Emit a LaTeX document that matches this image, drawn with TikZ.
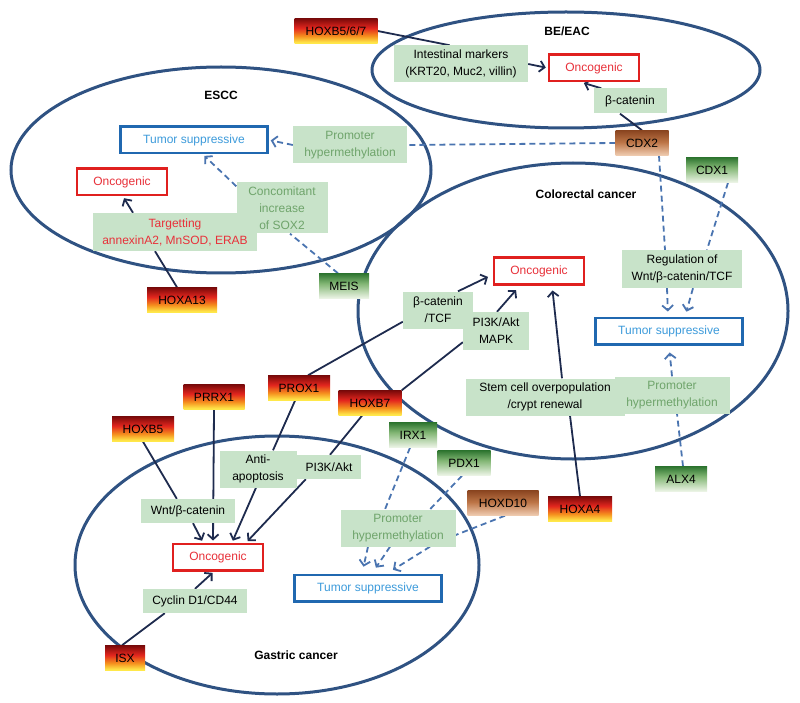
\documentclass[tikz,border=0pt]{standalone}
\usepackage{fontspec}
\setmainfont{Liberation Sans}
\usetikzlibrary{arrows.meta,calc,backgrounds}

\definecolor{ellc}{HTML}{2F5282}
\definecolor{solc}{HTML}{1E2B4E}
\definecolor{dshc}{HTML}{4A74B0}
\definecolor{lblfill}{HTML}{C8E3C9}
\definecolor{grntxt}{HTML}{6FA46B}
\definecolor{redtxt}{HTML}{E8313A}
\definecolor{redbord}{HTML}{E0201F}
\definecolor{bluetxt}{HTML}{3D9BDB}
\definecolor{bluebord}{HTML}{2068B0}
% gradient colours
\definecolor{gy}{HTML}{FFE84A}
\definecolor{go}{HTML}{F5901E}
\definecolor{gr}{HTML}{E3261E}
\definecolor{gd}{HTML}{7A0A0A}
\definecolor{by}{HTML}{F0CDB2}
\definecolor{bm}{HTML}{BC7446}
\definecolor{bd}{HTML}{8A4520}
\definecolor{ny}{HTML}{EEF5E8}
\definecolor{nm}{HTML}{82B674}
\definecolor{nd}{HTML}{2E7530}

\pgfdeclareverticalshading{redgene}{100bp}{color(0bp)=(gy); color(27bp)=(gy); color(40bp)=(go); color(56bp)=(gr); color(75bp)=(gd); color(100bp)=(gd)}
\pgfdeclareverticalshading{browngene}{100bp}{color(0bp)=(by); color(25bp)=(by); color(52bp)=(bm); color(75bp)=(bd); color(100bp)=(bd)}
\pgfdeclareverticalshading{greengene}{100bp}{color(0bp)=(ny); color(25bp)=(ny); color(55bp)=(nm); color(75bp)=(nd); color(100bp)=(nd)}

\newcommand\dgmfont{\fontsize{12}{17}\selectfont}

\tikzset{
  gene/.style={minimum height=25pt, inner sep=0pt, font=\dgmfont, text=black},
  redg/.style={gene, shading=redgene},
  brng/.style={gene, shading=browngene},
  grng/.style={gene, shading=greengene},
  lbl/.style={fill=lblfill, inner sep=0pt, align=center, font=\dgmfont, text=black},
  glbl/.style={lbl, text=grntxt},
  rlbl/.style={lbl, text=redtxt},
  outc/.style={fill=white, line width=2.5pt, minimum height=26.5pt, inner sep=0pt, font=\dgmfont},
  onc/.style={outc, draw=redbord, text=redtxt, minimum width=90pt},
  sup/.style={outc, draw=bluebord, text=bluetxt, minimum width=147pt},
  ttl/.style={font=\dgmfont\bfseries, text=black},
  ell/.style={draw=ellc, line width=3pt},
  sol/.style={draw=solc, line width=1.8pt},
  solarr/.style={sol, -{Straight Barb[length=5pt,width=11pt]}, shorten >=2pt},
  dsh/.style={draw=dshc, line width=1.8pt, dash pattern=on 6pt off 4pt},
  dsharr/.style={dsh, -{Straight Barb[length=5pt,width=11pt]}, shorten >=2pt},
}

\begin{document}
\begin{tikzpicture}[x=1pt,y=-1pt]
\useasboundingbox (0,0) rectangle (800,703);

% titles
\node[ttl] (tbe) at (567,31) {BE/EAC};
\node[ttl] (tes) at (221,95) {ESCC};
\node[ttl] (tcr) at (586,194) {Colorectal cancer};
\node[ttl] (tga) at (296,655) {Gastric cancer};

% genes
\node[redg, minimum width=83pt] (hoxbsix) at (336,31) {HOXB5/6/7};
\node[brng, minimum width=53pt] (cdxtwo) at (642,143) {CDX2};
\node[grng, minimum width=52pt] (cdxone) at (712,170) {CDX1};
\node[redg, minimum width=70pt] (hoxathirteen) at (182,300) {HOXA13};
\node[grng, minimum width=50pt] (meis) at (344,286) {MEIS};
\node[redg, minimum width=61pt] (prrx) at (214,397) {PRRX1};
\node[redg, minimum width=62pt] (prox) at (299,388) {PROX1};
\node[redg, minimum width=63pt] (hoxbseven) at (370,403) {HOXB7};
\node[redg, minimum width=62pt] (hoxbfive) at (143,429) {HOXB5};
\node[grng, minimum width=48pt] (irx) at (413,435) {IRX1};
\node[grng, minimum width=53pt] (pdx) at (464,463) {PDX1};
\node[brng, minimum width=71pt] (hoxdten) at (503,503) {HOXD10};
\node[redg, minimum width=64pt] (hoxafour) at (580,509) {HOXA4};
\node[grng, minimum width=52pt] (alx) at (681,479) {ALX4};
\node[redg, minimum width=40pt] (isx) at (125,658) {ISX};

% outcomes
\node[onc] (beonc) at (594,68) {Oncogenic};
\node[sup] (estsup) at (194,140) {Tumor suppressive};
\node[onc] (esonc) at (122,182) {Oncogenic};
\node[onc] (croonc) at (539,271) {Oncogenic};
\node[sup] (crsup) at (669,331) {Tumor suppressive};
\node[onc] (gaonc) at (218,557) {Oncogenic};
\node[sup] (gasup) at (368,588) {Tumor suppressive};

% labels
\node[lbl, minimum width=134pt, minimum height=37pt] (intm) at (461,64) {Intestinal markers\\(KRT20, Muc2, villin)};
\node[lbl, minimum width=73pt, minimum height=25pt] (bcat) at (630,101) {β-catenin};
\node[glbl, minimum width=114pt, minimum height=37pt] (esprom) at (350,145) {Promoter\\hypermethylation};
\node[glbl, minimum width=91pt, minimum height=51pt] (concom) at (282,208) {Concomitant\\increase\\of SOX2};
\node[rlbl, minimum width=164pt, minimum height=38pt] (target) at (175,232) {Targetting\\annexinA2, MnSOD, ERAB};
\node[lbl, minimum width=120pt, minimum height=38pt] (regwnt) at (682,269) {Regulation of\\Wnt/β-catenin/TCF};
\node[lbl, minimum width=70pt, minimum height=37pt] (bcattcf) at (438,310) {β-catenin\\/TCF};
\node[lbl, minimum width=66pt, minimum height=38pt] (pimapk) at (496,331) {PI3K/Akt\\MAPK};
\node[lbl, minimum width=159pt, minimum height=37pt] (stem) at (545,397) {Stem cell overpopulation\\/crypt renewal};
\node[glbl, minimum width=115pt, minimum height=37pt] (crprom) at (672,395) {Promoter\\hypermethylation};
\node[lbl, minimum width=77pt, minimum height=37pt] (antiap) at (258,469) {Anti-\\apoptosis};
\node[lbl, minimum width=64pt, minimum height=24pt] (pigas) at (329,467) {PI3K/Akt};
\node[lbl, minimum width=94pt, minimum height=24pt] (wnt) at (188,511) {Wnt/β-catenin};
\node[lbl, minimum width=104pt, minimum height=24pt] (cyclin) at (195,601) {Cyclin D1/CD44};
\node[glbl, minimum width=115pt, minimum height=37pt] (gaprom) at (398,528) {Promoter\\hypermethylation};

\begin{scope}[on background layer]
  % ellipses
  \draw[ell] (566,70) ellipse [x radius=194pt, y radius=58pt];
  \draw[ell] (221,170) ellipse [x radius=210pt, y radius=103pt];
  \draw[ell] (573,311) ellipse [x radius=215pt, y radius=148pt];
  \draw[ell] (277,565) ellipse [x radius=202pt, y radius=129pt];

  % BE/EAC
  \draw[sol] (hoxbsix.east) -- ($(intm.north west)+(56,0)$);
  \draw[solarr] (intm.east) -- (beonc.west);
  \draw[sol] (cdxtwo.north) -- ($(bcat.south)+(-10,0)$);
  \draw[solarr] ($(bcat.north west)+(8,0)$) -- ($(beonc.south)+(-12,0)$);

  % ESCC
  \draw[dsh] (cdxtwo.west) -- (esprom.east);
  \draw[dsharr] (esprom.west) -- (estsup.east);
  \draw[sol] ($(hoxathirteen.north)+(-5,0)$) -- ($(target.south)+(-20,0)$);
  \draw[solarr] ($(target.north)+(-42,0)$) -- ($(esonc.south)+(1,0)$);
  \draw[dsh] ($(meis.north)+(-6,0)$) -- ($(concom.south)+(8,0)$);
  \draw[dsharr] ($(concom.north west)+(0,4)$) -- ($(estsup.south)+(9,0)$);

  % Colorectal
  \draw[dsh] ($(cdxtwo.south)+(17,0)$) -- ($(regwnt.north)+(-17,0)$);
  \draw[dsh] ($(cdxone.south)+(16,0)$) -- ($(regwnt.north)+(25,0)$);
  \draw[dsharr, shorten >=5pt] ($(regwnt.south)+(-15,0)$) -- ($(crsup.north)+(-1,0)$);
  \draw[dsharr, shorten >=5pt] ($(regwnt.south)+(11,0)$) -- ($(crsup.north)+(16,0)$);
  \draw[sol] ($(prox.north)+(9,0)$) -- ($(bcattcf.south west)+(0,-7)$);
  \draw[solarr] ($(bcattcf.north)+(20,0)$) -- ($(croonc.west)+(-3,5)$);
  \draw[sol] (hoxbseven.north east) -- ($(pimapk.south west)+(0,-8)$);
  \draw[solarr, shorten >=6pt] ($(pimapk.north)+(1,0)$) -- ($(croonc.south)+(-19,0)$);
  \draw[sol] (hoxafour.north) -- ($(stem.south)+(25,0)$);
  \draw[solarr, shorten >=5pt] ($(stem.north)+(17,0)$) -- ($(croonc.south)+(13,0)$);
  \draw[dsh] ($(alx.north)+(2,0)$) -- ($(crprom.south)+(5,0)$);
  \draw[dsharr, shorten >=7pt] (crprom.north) -- (crsup.south);

  % Gastric
  \draw[sol] (hoxbfive.south) -- ($(wnt.north west)+(36,0)$);
  \draw[solarr] ($(wnt.south)+(5,0)$) -- ($(gaonc.north)+(-15,0)$);
  \draw[solarr] (prrx.south) -- ($(gaonc.north)+(-5,0)$);
  \draw[sol] ($(prox.south)+(-4,0)$) -- ($(antiap.north)+(15,0)$);
  \draw[solarr] ($(antiap.south)+(-2,0)$) -- ($(gaonc.north)+(14,0)$);
  \draw[sol] ($(hoxbseven.south)+(-8,0)$) -- ($(pigas.north)+(1,0)$);
  \draw[solarr] ($(pigas.south west)+(9,0)$) -- ($(gaonc.north east)+(-18,0)$);
  \draw[sol] ($(isx.north)+(-3,0)$) -- ($(cyclin.south west)+(22,0)$);
  \draw[solarr] (cyclin.north) -- ($(gaonc.south)+(-4,0)$);
  \draw[dsh] ($(irx.south)+(-3,0)$) -- ($(gaprom.north)+(-13,0)$);
  \draw[dsh] ($(pdx.south)+(-2,0)$) -- ($(gaprom.north)+(32,0)$);
  \draw[dsh] ($(hoxdten.south)+(2,0)$) -- ($(gaprom.east)+(0,7)$);
  \draw[dsharr, shorten >=7pt] ($(gaprom.south)+(-30,0)$) -- ($(gasup.north)+(-6,0)$);
  \draw[dsharr, shorten >=7pt] ($(gaprom.south)+(-8,0)$) -- ($(gasup.north)+(4,0)$);
  \draw[dsharr, shorten >=7pt] ($(gaprom.south)+(32,0)$) -- ($(gasup.north)+(19,0)$);
\end{scope}
\end{tikzpicture}
\end{document}
